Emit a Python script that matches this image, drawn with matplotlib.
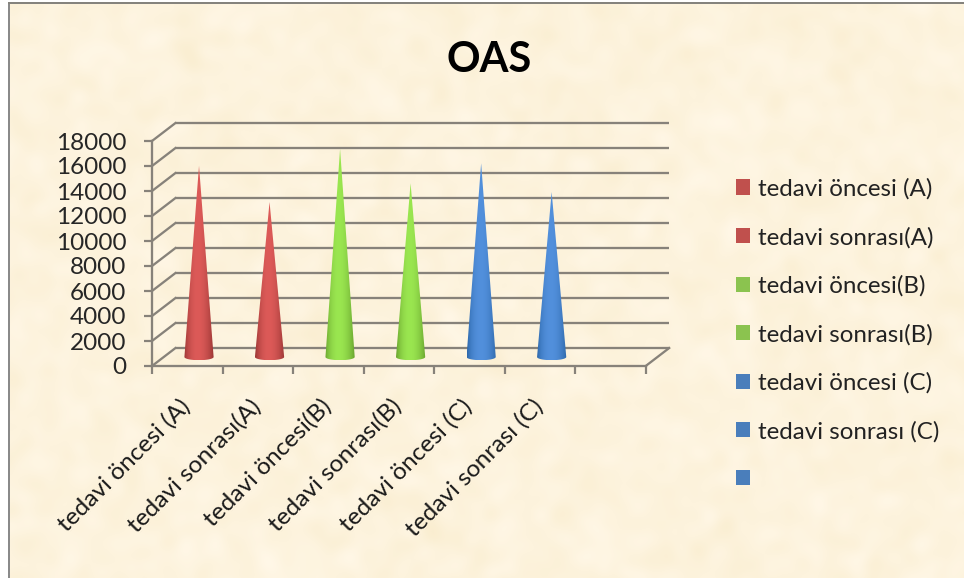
import numpy as np
import matplotlib
matplotlib.use("Agg")
import matplotlib.pyplot as plt
from matplotlib.patches import Patch, Polygon, Rectangle
from matplotlib.transforms import ScaledTranslation

# Chart content
title = "OAS"
categories = ["tedavi öncesi (A)", "tedavi sonrası(A)", "tedavi öncesi(B)",
              "tedavi sonrası(B)", "tedavi öncesi (C)", "tedavi sonrası (C)"]
values = [15300, 12400, 16650, 13900, 15500, 13200]
y_ticks = [0, 2000, 4000, 6000, 8000, 10000, 12000, 14000, 16000, 18000]
legend_labels = categories + [" "]

# Cone shading: edge colour and highlight colour for each group
edge_colors = ["#973432", "#973432", "#66a02c", "#66a02c", "#2c66a8", "#2c66a8"]
mid_colors = ["#dc5a58", "#dc5a58", "#9ae650", "#9ae650", "#5290dc", "#5290dc"]
legend_colors = ["#c0504d", "#c0504d", "#8bc34f", "#8bc34f",
                 "#4a7ebb", "#4a7ebb", "#4a7ebb"]
line_color = "#87827a"

W, H = 964, 578
plt.rcParams["font.family"] = ["Lato", "DejaVu Sans"]
fig = plt.figure(figsize=(W / 100, H / 100), dpi=100)

# Parchment backdrop made of soft mottling
rng = np.random.default_rng(7)
noise = rng.normal(size=(H, W))
fy = np.fft.fftfreq(H)[:, None]
fx = np.fft.rfftfreq(W)[None, :]
soft = np.fft.irfft2(np.fft.rfft2(noise) * np.exp(-(fx**2 + fy**2) * 2 * (10.0 * np.pi)**2 / 2), s=(H, W))
soft = soft / soft.std()
base = np.array([253.0, 243.0, 221.0])
tint = np.array([0.7, 1.2, 2.8])
backdrop = np.clip(base + soft[..., None] * tint, 0, 255) / 255
fig.figimage(backdrop, 0, 0, zorder=-5)

# Slide edge: white margin and grey rule at the top and left
for x0, y0, w, h, c in [(0, 0, 9, H, "white"), (0, H - 2, W, 2, "white"),
                        (8, 0, 2, H - 2, "#8a8a8a"), (8, H - 4, W - 8, 2, "#85837d")]:
    fig.add_artist(Rectangle((x0 / W, y0 / H), w / W, h / H, transform=fig.transFigure,
                             fc=c, ec="none", zorder=-1))

# Front plane of the 3-D box
ax = fig.add_axes([152 / W, (H - 366) / H, (645.7 - 152) / W, 225 / H])
ax.patch.set_visible(False)
n_slots = len(categories) + 1
depth_x = 23.5 / (493.7 / n_slots)
depth_y = 18 / 225 * y_ticks[-1]

# Back wall gridlines, receding floor and wall edges
for v in y_ticks:
    ax.plot([depth_x, n_slots + depth_x], [v + depth_y] * 2, color=line_color, lw=1.65,
            clip_on=False, zorder=1, solid_capstyle="butt")
    ax.plot([0, depth_x], [v, v + depth_y], color=line_color, lw=1.65,
            clip_on=False, zorder=1)
ax.plot([n_slots, n_slots + depth_x], [0, depth_y], color=line_color, lw=1.65,
        clip_on=False, zorder=1)

# Cones sit halfway into the box depth
half_width = 14.6 / (493.7 / n_slots)
ellipse_h = 3.2 / 225 * y_ticks[-1]
theta = np.linspace(np.pi, 2 * np.pi, 40)
for i, val in enumerate(values):
    cx = i + 0.5 + depth_x / 2
    floor = depth_y / 2
    top = val + depth_y / 2
    arc = np.column_stack([cx + half_width * np.cos(theta), floor + ellipse_h * np.sin(theta)])
    outline = np.vstack([arc, [[cx, top]]])
    t = np.linspace(0, 1, 64)
    weight = np.clip(np.sin(np.pi * t**0.9), 0, 1)[None, :, None] ** 0.8
    e = np.array(matplotlib.colors.to_rgb(edge_colors[i]))
    m = np.array(matplotlib.colors.to_rgb(mid_colors[i]))
    shade = e + (m - e) * weight
    im = ax.imshow(shade, extent=[cx - half_width, cx + half_width, floor - ellipse_h, top],
                   origin="lower", aspect="auto", zorder=3, interpolation="bilinear")
    im.set_clip_path(Polygon(outline, transform=ax.transData))

ax.set_xlim(0, n_slots)
ax.set_ylim(0, y_ticks[-1])

# Axes, ticks and labels
for side in ("top", "right"):
    ax.spines[side].set_visible(False)
for side in ("left", "bottom"):
    ax.spines[side].set_color(line_color)
    ax.spines[side].set_linewidth(1.65)
    ax.spines[side].set_zorder(2)
ax.set_yticks(y_ticks)
ax.set_xticks(range(n_slots + 1))
ax.set_xticklabels([])
ax.tick_params(axis="both", which="major", length=6, width=1.6, color=line_color)
ax.tick_params(axis="y", labelsize=17.5, labelcolor="#262626", pad=12.5)
ax.set_xticks([i + 0.5 for i in range(len(categories))], minor=True)
labels = ax.set_xticklabels(categories, minor=True, rotation=45, ha="right", va="top",
                            rotation_mode="anchor", fontsize=17.6, color="#1a1a1a")
ax.tick_params(axis="x", which="minor", length=0, pad=21)
nudge = ScaledTranslation(-0.08, 0, fig.dpi_scale_trans)
for lab in labels:
    lab.set_transform(lab.get_transform() + nudge)

fig.text(489 / W, 1 - 60 / H, title, fontsize=30, fontweight="bold",
         ha="center", va="center", color="black")

handles = [Patch(fc=c, ec="none") for c in legend_colors]
fig.legend(handles, legend_labels, loc="upper left",
           bbox_to_anchor=(736 / W, 1 - 178 / H), bbox_transform=fig.transFigure,
           frameon=False, fontsize=17.4, labelcolor="#222222", borderpad=0, borderaxespad=0,
           handlelength=0.58, handleheight=0.58, handletextpad=0.31, labelspacing=1.12)

fig.savefig("out.png", dpi=100)
